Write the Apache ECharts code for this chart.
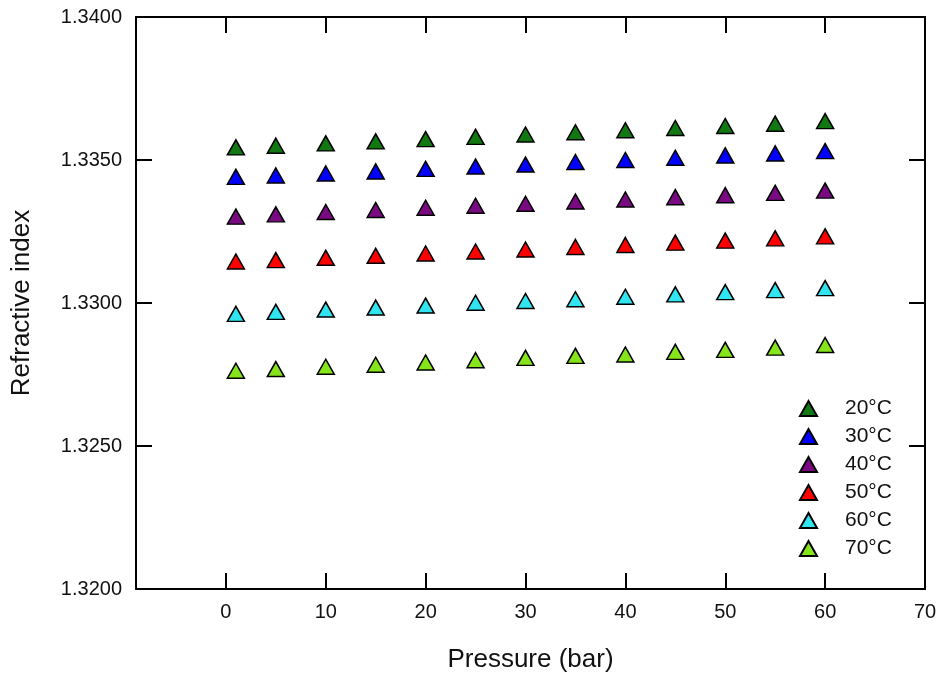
<!DOCTYPE html>
<html>
<head>
<meta charset="utf-8">
<title>Refractive index vs pressure</title>
<script src="https://cdn.jsdelivr.net/npm/echarts@6/dist/echarts.min.js"></script>
<style>
  html, body { margin: 0; padding: 0; background: #fff; }
  #chart { width: 938px; height: 675px; }
</style>
</head>
<body>
<div id="chart"></div>
<script>
// pressure (bar)
var pressures = [1, 5, 10, 15, 20, 25, 30, 35, 40, 45, 50, 55, 60];
var seriesNames = ['20°C', '30°C', '40°C', '50°C', '60°C', '70°C'];
var seriesColors = ['#127812', '#0000ff', '#7a0a82', '#ff0000', '#30e4f0', '#86e41a'];

// refractive index
var n20 = [1.33544, 1.33550, 1.33558, 1.33565, 1.33573, 1.33581, 1.33589, 1.33597, 1.33604, 1.33612, 1.33619, 1.33627, 1.33636];
var n30 = [1.33441, 1.33446, 1.33453, 1.33460, 1.33469, 1.33477, 1.33484, 1.33493, 1.33500, 1.33508, 1.33516, 1.33523, 1.33531];
var n40 = [1.33302, 1.33310, 1.33318, 1.33325, 1.33333, 1.33340, 1.33347, 1.33355, 1.33362, 1.33370, 1.33377, 1.33385, 1.33393];
var n50 = [1.33145, 1.33150, 1.33158, 1.33165, 1.33173, 1.33180, 1.33187, 1.33196, 1.33203, 1.33211, 1.33218, 1.33226, 1.33233];
var n60 = [1.32962, 1.32969, 1.32977, 1.32984, 1.32991, 1.33001, 1.33007, 1.33013, 1.33022, 1.33030, 1.33038, 1.33045, 1.33052];
var n70 = [1.32763, 1.32769, 1.32777, 1.32784, 1.32792, 1.32800, 1.32808, 1.32815, 1.32820, 1.32829, 1.32836, 1.32844, 1.32853];
var allValues = [n20, n30, n40, n50, n60, n70];

var xTickLabels = [0, 10, 20, 30, 40, 50, 60, 70];
var xTicks = [0, 10, 20, 30, 40, 50, 60];

var font = 'Arial, "Liberation Sans", sans-serif';
var textColor = '#111';

var series = allValues.map(function (vals, i) {
  return {
    name: seriesNames[i],
    type: 'scatter',
    symbol: 'triangle',
    symbolSize: [17, 15],
    itemStyle: {
      color: seriesColors[i],
      borderColor: '#000',
      borderWidth: 1.5,
      opacity: 1
    },
    data: pressures.map(function (p, j) { return [p, vals[j]]; })
  };
});

var lineStyle = { color: '#000', width: 2 };

var myChart = echarts.init(document.getElementById('chart'));
myChart.setOption({
  animation: false,
  grid: { left: 136, right: 13, top: 17, bottom: 86, outerBoundsMode: 'none', containLabel: false },
  legend: {
    data: seriesNames,
    orient: 'vertical',
    left: 794,
    top: 393,
    itemWidth: 17,
    itemHeight: 15,
    itemGap: 7,
    icon: 'triangle',
    textStyle: { fontFamily: font, fontSize: 21, color: textColor, padding: [0, 0, 0, 23] }
  },
  xAxis: [{
    type: 'value',
    min: -9,
    max: 70,
    name: 'Pressure (bar)',
    nameLocation: 'middle',
    nameGap: 58,
    nameTextStyle: { fontFamily: font, fontSize: 26, color: textColor },
    axisLine: { show: true, onZero: false, lineStyle: lineStyle },
    axisTick: { show: true, inside: true, length: 16, lineStyle: lineStyle, customValues: xTicks },
    axisLabel: { fontFamily: font, fontSize: 20, color: textColor, margin: 13, customValues: xTickLabels },
    splitLine: { show: false }
  }, {
    type: 'value',
    position: 'top',
    min: -9,
    max: 70,
    axisLine: { show: true, onZero: false, lineStyle: lineStyle },
    axisTick: { show: true, inside: true, length: 16, lineStyle: lineStyle, customValues: xTicks },
    axisLabel: { show: false },
    splitLine: { show: false }
  }],
  yAxis: [{
    type: 'value',
    min: 1.32,
    max: 1.34,
    interval: 0.005,
    name: 'Refractive index',
    nameLocation: 'middle',
    nameGap: 101,
    nameTextStyle: { fontFamily: font, fontSize: 26, color: textColor },
    axisLine: { show: true, onZero: false, lineStyle: lineStyle },
    axisTick: { show: true, inside: true, length: 16, lineStyle: lineStyle },
    axisLabel: {
      fontFamily: font, fontSize: 20, color: textColor, margin: 14,
      formatter: function (v) { return v.toFixed(4); }
    },
    splitLine: { show: false }
  }, {
    type: 'value',
    position: 'right',
    min: 1.32,
    max: 1.34,
    interval: 0.005,
    axisLine: { show: true, onZero: false, lineStyle: lineStyle },
    axisTick: { show: true, inside: true, length: 16, lineStyle: lineStyle },
    axisLabel: { show: false },
    splitLine: { show: false }
  }],
  series: series
});
</script>
</body>
</html>
